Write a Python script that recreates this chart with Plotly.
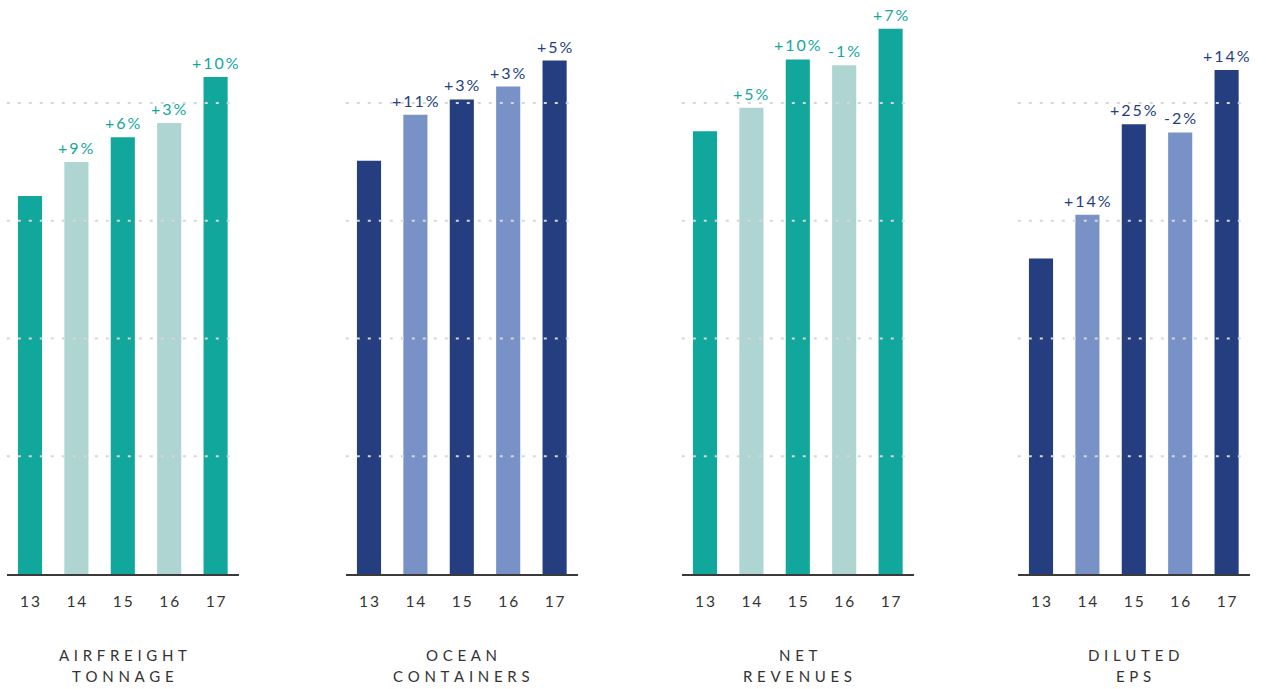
import plotly.graph_objects as go

# Fiscal years shown on every panel
years = ["13", "14", "15", "16", "17"]

# Index values per metric (one grid step = one unit)
airfreight_tonnage = [3.21, 3.50, 3.71, 3.83, 4.22]
ocean_containers = [3.51, 3.90, 4.03, 4.14, 4.36]
net_revenues = [3.76, 3.96, 4.37, 4.32, 4.63]
diluted_eps = [2.68, 3.05, 3.82, 3.75, 4.28]

titles = [["AIRFREIGHT", "TONNAGE"], ["OCEAN", "CONTAINERS"], ["NET", "REVENUES"], ["DILUTED", "EPS"]]
grid_levels = [1, 2, 3, 4]

TEAL, TEAL_LIGHT = "#12A79D", "#AED5D2"
NAVY, NAVY_LIGHT = "#253E7F", "#7892C8"

panels = [
    (airfreight_tonnage, TEAL, TEAL_LIGHT),
    (ocean_containers, NAVY, NAVY_LIGHT),
    (net_revenues, TEAL, TEAL_LIGHT),
    (diluted_eps, NAVY, NAVY_LIGHT),
]

W, H = 1266, 689
panel_left = [6.8, 345.8, 681.8, 1017.8]
panel_w = 232
base_px = 574
unit_px = 117.75
FONT = "Lato"
THIN = "\u2009"
HAIR = "\u200a"


def track(s, gap=THIN):
    """Letter-space a string with narrow spaces."""
    return gap.join(s)


def growth_labels(vals):
    out = [None]
    for a, b in zip(vals[:-1], vals[1:]):
        g = round((b / a - 1) * 100)
        out.append(("+" if g >= 0 else "") + f"{g}%")
    return out


fig = go.Figure()
layout = {}
shapes = []
annotations = []

for i, (vals, dark, light) in enumerate(panels):
    n = i + 1
    xa = "x" if n == 1 else f"x{n}"
    ya = "y" if n == 1 else f"y{n}"
    colors = [dark if k % 2 == 0 else light for k in range(len(vals))]
    fig.add_trace(go.Bar(
        x=years, y=vals, xaxis=xa, yaxis=ya,
        marker=dict(color=colors, line=dict(width=0)),
        showlegend=False, hoverinfo="skip",
    ))
    # growth labels above each bar (category index positions)
    for k, (v, lab) in enumerate(zip(vals, growth_labels(vals))):
        if lab is None:
            continue
        annotations.append(dict(
            text=track(lab), x=k, y=v, xref=xa, yref=ya,
            yanchor="bottom", xanchor="center", yshift=3, showarrow=False,
            font=dict(family=FONT, size=16, color=dark),
        ))
    x0 = panel_left[i] / W
    x1 = (panel_left[i] + panel_w) / W
    layout[f"xaxis{n if n > 1 else ''}"] = dict(
        domain=[x0, x1], anchor=ya, type="category",
        range=[-0.5, 4.5], showgrid=False, zeroline=False,
        showline=True, linecolor="#3a3a3a", linewidth=1.5,
        ticks="", ticklabelstandoff=13,
        tickvals=years, ticktext=[track(y) for y in years],
        tickfont=dict(family=FONT, size=15.5, color="#333333"),
        fixedrange=True,
    )
    layout[f"yaxis{n if n > 1 else ''}"] = dict(
        domain=[(H - base_px) / H, 1], anchor=xa,
        range=[0, base_px / unit_px], showgrid=False, zeroline=False,
        showticklabels=False, showline=False, fixedrange=True,
    )
    for g in grid_levels:
        shapes.append(dict(
            type="line", layer="above", xref=f"{xa} domain", yref=ya,
            x0=0, x1=0.985, y0=g, y1=g,
            line=dict(color="#d6d6d6", width=2, dash="3px,8px"),
        ))
    for line_text, y_px in zip(titles[i], [655, 676]):
        annotations.append(dict(
            text=track(line_text, THIN * 2 + HAIR), xref="paper", yref="paper",
            x=(x0 + x1) / 2, y=(H - y_px) / H, yanchor="middle", xanchor="center",
            showarrow=False,
            font=dict(family=FONT, size=15, color="#333333"),
        ))

fig.update_layout(
    width=W, height=H,
    margin=dict(l=0, r=0, t=0, b=0),
    paper_bgcolor="white", plot_bgcolor="white",
    bargap=0.48,
    shapes=shapes, annotations=annotations,
    **layout,
)

fig.write_html("out.html", config={"displayModeBar": False})
